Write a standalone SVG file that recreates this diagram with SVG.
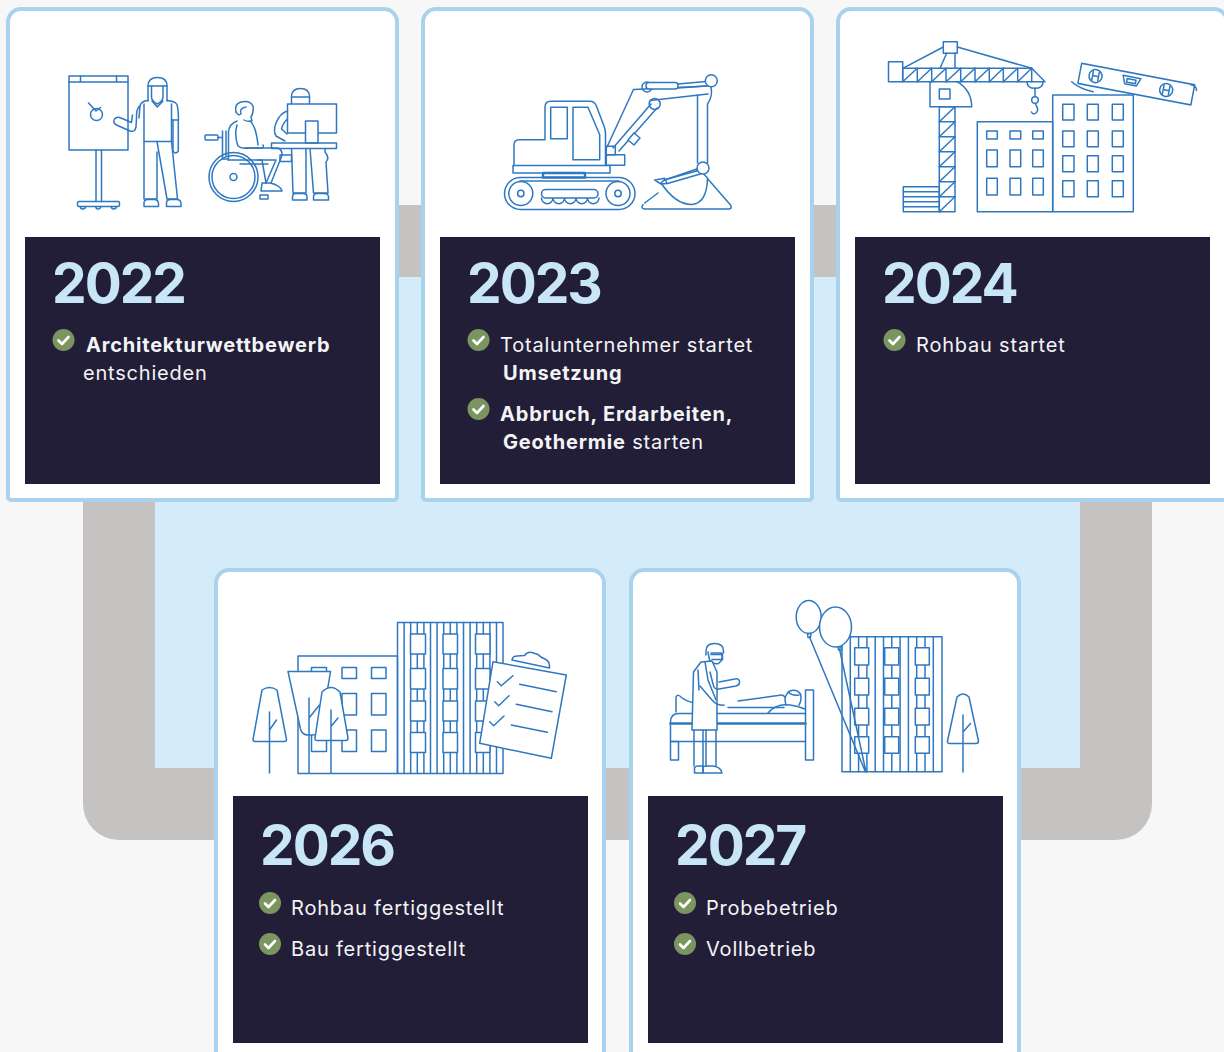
<svg xmlns="http://www.w3.org/2000/svg" width="1224" height="1052" viewBox="0 0 1224 1052">
<style>
.ill{fill:none;stroke:#2f78c1;stroke-width:1.5;stroke-linejoin:round;stroke-linecap:round}
.ill .w{fill:#fff}
.ill .thick{stroke-width:2.4}
.card{fill:#fff;stroke:#a9d3ec;stroke-width:4}
.panel{fill:#221e38}
.year{font-family:Inter,"Liberation Sans",sans-serif;font-weight:700;font-size:55px;letter-spacing:-2px;fill:#c8e6f8}
.txt{font-family:Inter,"Liberation Sans",sans-serif;font-size:20px;letter-spacing:0.8px;fill:#f4f4f6}
.b{font-weight:700}
</style>
<defs>
<g id="chk"><circle r="11" fill="#7a9560"/><path d="M-5 0.5L-1.5 4L5 -3" fill="none" stroke="#fff" stroke-width="2.6" stroke-linecap="round" stroke-linejoin="round"/></g>
</defs>
<rect width="1224" height="1052" fill="#f7f7f7"/>

<!-- timeline track behind the cards -->
<g id="connectors">
<path d="M83 205H1152V804a36 36 0 0 1-36 36H119a36 36 0 0 1-36-36Z" fill="#c4c3c2"/>
<rect x="155" y="277" width="925" height="491" fill="#d4ebf9"/>
</g>

<!-- 2022 -->
<g id="card-2022">
<path class="card" d="M8 22a13 13 0 0 1 13-13H384a13 13 0 0 1 13 13V497a3 3 0 0 1-3 3H11a3 3 0 0 1-3-3Z"/>
<g class="ill">
<!-- flip chart -->
<rect x="69" y="76" width="59" height="74"/>
<path d="M69 82H128M80.5 76V82M116.5 76V82"/>
<circle cx="96.5" cy="114.5" r="6"/>
<path d="M88.5 103L96 111L100.5 107.5"/>
<path d="M96 150V201.5M101.5 150V201.5"/>
<rect x="77.5" y="201.5" width="42" height="5" rx="1.5"/>
<path d="M80.3 206.5a2.5 2.5 0 0 0 5 0M95.8 206.5a2.5 2.5 0 0 0 5 0M111.3 206.5a2.5 2.5 0 0 0 5 0"/>
<!-- presenter -->
<path d="M148 101V86Q148 77.5 157.5 77.5Q167 77.5 167 86V101"/>
<path d="M148 86H167"/>
<path d="M151.5 86V97Q151.5 101 157.3 104Q163 101 163 97V86"/>
<path d="M148 100.5Q141 101 140 106L139 118M167 100.5Q175 101 177 104.5Q178.5 110 178.5 120H172.5"/>
<path d="M144 104V141.5H171.5V104"/>
<path d="M152 101L157.3 107L163 101"/>
<path d="M173 120V151Q175.5 155 178.3 151V120"/>
<path d="M139.5 106Q136 110 136.5 118L136 127Q135 132.5 130 131L116.5 125Q112.5 122.5 114.5 119Q117 116 121 118L131.5 122.5L132.5 115"/>
<path d="M144 141.5V199H157V152M157 141.5L167 199H177.5L171.5 141.5"/>
<path d="M144 206.5V203Q144 199.5 148 199.5H154Q158.5 199.5 158.5 204V206.5Z"/>
<path d="M166.5 206.5V203Q166.5 199.5 170.5 199.5H176.5Q181 199.5 181 204V206.5Z"/>
<!-- wheelchair user -->
<circle cx="233.5" cy="177" r="24.5"/>
<circle cx="233.5" cy="177" r="21.5"/>
<circle cx="233.5" cy="177" r="3.5"/>
<rect x="205" y="135" width="13" height="5" rx="1"/>
<path d="M218 137.5H222.5M222.5 131V159H228M226 131V156"/>
<path d="M228 160H262M240 164H268M262 160L266 183"/>
<path d="M237 121Q229 124 228.5 132V160"/>
<path d="M236 112Q234 104 241 102Q250 100 253 106Q254 112 251 117L252 121Q247 122 244 120"/>
<path d="M236 112Q238 116 241 114Q239 108 246 107"/>
<path d="M250 121Q256 126 258 145"/>
<path d="M237 125Q234 135 238 146Q241 149 248 148H262Q264 148 263 145"/>
<path d="M245 148L278 148Q284 151 281 158L271 183M258 160H276L266 183"/>
<path d="M262 183H270Q280 185 282 191H261Z"/>
<rect x="260" y="195" width="8" height="4"/>
<!-- person at desk -->
<path d="M291.5 104V97Q291.5 88.5 300.5 88.5Q309.5 88.5 309.5 97V104"/>
<path d="M291.5 97H309.5"/>
<rect class="w" x="287.5" y="104" width="49" height="29"/>
<rect class="w" x="305.5" y="121" width="12.5" height="22"/>
<rect x="271.5" y="143" width="65" height="5.5"/>
<path d="M287.5 111Q280 113 276 123Q273 131 276 136L285 141"/>
<path d="M287.5 119Q283 123 281.5 129L287 134"/>
<rect x="280" y="155" width="11.5" height="6.5"/>
<path d="M291.5 148.5L293 193H306V148.5M310 148.5L313.5 193H328L326 162Q330 158 325 152V148.5"/>
<path d="M292.5 200V197Q292.5 193.5 296 193.5H303Q307 193.5 307 197V200Z"/>
<path d="M313.5 200V197Q313.5 193.5 317 193.5H324Q328.5 193.5 328.5 197V200Z"/>
</g>
<rect class="panel" x="25" y="237" width="355" height="247"/>
<text class="year" x="52" y="303">2022</text>
<use href="#chk" x="63.5" y="340"/>
<text class="txt b" x="86" y="352">Architekturwettbewerb</text>
<text class="txt" x="83" y="380">entschieden</text>
</g>

<!-- 2023 -->
<g id="card-2023">
<path class="card" d="M423 22a13 13 0 0 1 13-13H799a13 13 0 0 1 13 13V497a3 3 0 0 1-3 3H426a3 3 0 0 1-3-3Z"/>
<g class="ill">
<!-- tracks -->
<rect x="504.5" y="177.5" width="130.5" height="32" rx="16"/>
<path d="M520 181H619"/>
<circle cx="520.8" cy="193.5" r="12"/><circle cx="520.8" cy="193.5" r="3.2"/>
<circle cx="618" cy="193.5" r="12"/><circle cx="618" cy="193.5" r="3.2"/>
<path d="M541.5 198a5.75 5.75 0 0 0 11.5 0a5.75 5.75 0 0 0 11.5 0a5.75 5.75 0 0 0 11.5 0a5.75 5.75 0 0 0 11.5 0a5.75 5.75 0 0 0 11.5 0"/>
<rect class="w" x="541.5" y="189.5" width="56.5" height="8.5" rx="4.2"/>
<!-- body -->
<rect class="thick" x="543" y="173" width="42" height="4.5"/>
<rect x="513" y="165.5" width="97" height="7.5"/>
<path d="M514 165.5V145Q514 139.7 519 139.7H545V107Q545 101.3 551 101.3H590Q594 101.3 596 105L604 126Q605.5 130 605.5 134V165.5"/>
<rect x="550.7" y="107.3" width="16.6" height="31.4"/>
<path d="M573 107.3H588L599.7 134.7V159.7H573Z"/>
<rect x="606.3" y="146.3" width="9" height="8.4"/>
<rect x="606.3" y="154.7" width="18.4" height="10.6"/>
<!-- boom -->
<circle cx="654.7" cy="104" r="5.5"/>
<path d="M607 147L633.5 89.5L708 86M708 94L650 100.5"/>
<path d="M613 148L651 104M619 151L657 108"/>
<path class="w" d="M628 140L634 133L640 138L634 145Z"/>
<circle cx="647" cy="87" r="5"/>
<rect class="w" x="646" y="82.5" width="32" height="6.5" rx="3"/>
<path d="M678 84L706 81.5M678 88L706 86"/>
<path d="M697.5 95V163M711 87Q713 96 707.5 104V163"/>
<circle class="w" cx="711.3" cy="80.7" r="6"/>
<!-- bucket and soil -->
<path d="M644.7 203L658 193M644 209Q640.5 208 643 204.5M644 209H729.5Q732.5 208 730.5 205L707 178"/>
<path class="w" d="M661 183Q676 205 692 204.5Q707 203 707.5 178L700 170L664 180Z"/>
<path d="M654.7 180L664.7 178.3L667 183.5L661 184Z"/>
<path d="M664.7 180L699.7 168M667.5 183.5L702 173.5"/>
<circle class="w" cx="703" cy="168" r="6"/>
</g>
<rect class="panel" x="440" y="237" width="355" height="247"/>
<text class="year" x="467" y="303">2023</text>
<use href="#chk" x="478.5" y="340"/>
<text class="txt" x="500" y="352">Totalunternehmer startet</text>
<text class="txt b" x="503" y="380">Umsetzung</text>
<use href="#chk" x="478.5" y="409"/>
<text class="txt b" x="500" y="421">Abbruch, Erdarbeiten,</text>
<text class="txt" x="503" y="449"><tspan class="b">Geothermie</tspan> starten</text>
</g>

<!-- 2024 -->
<g id="card-2024">
<path class="card" d="M838 22a13 13 0 0 1 13-13H1214a13 13 0 0 1 13 13V497a3 3 0 0 1-3 3H841a3 3 0 0 1-3-3Z"/>
<g class="ill">
<!-- crane -->
<rect x="888.5" y="61.7" width="14.2" height="20"/>
<rect x="943.3" y="41.7" width="14" height="11.6"/>
<path d="M902.7 68.3L943.3 47M957.3 47L1031.7 68.3M946.7 53.3L940 68.3M955 53.3V68.3"/>
<path d="M902.7 68.3H1031.7L1045 81.7H902.7Z"/>
<path d="M917.3 68.3V81.7M931.7 68.3V81.7M946 68.3V81.7M960.7 68.3V81.7M975 68.3V81.7M989.3 68.3V81.7M1003.3 68.3V81.7M1017.7 68.3V81.7M1031.7 68.3V81.7"/>
<path d="M902.7 81.7L917.3 68.3M917.3 81.7L931.7 68.3M931.7 81.7L946 68.3M946 81.7L960.7 68.3M960.7 81.7L975 68.3M975 81.7L989.3 68.3M989.3 81.7L1003.3 68.3M1003.3 81.7L1017.7 68.3M1017.7 81.7L1031.7 68.3"/>
<path d="M930 81.7V106.7H971.7Q971.5 90 957 81.7"/>
<rect x="939.3" y="89" width="10.7" height="10"/>
<rect x="939.3" y="106.7" width="15.7" height="105"/>
<path d="M939.3 121.7H955M939.3 136.7H955M939.3 151.7H955M939.3 166.7H955M939.3 181.7H955M939.3 196.7H955"/>
<path d="M939.3 121.7L955 106.7M939.3 136.7L955 121.7M939.3 151.7L955 136.7M939.3 166.7L955 151.7M939.3 181.7L955 166.7M939.3 196.7L955 181.7M939.3 211.7L955 196.7"/>
<rect x="903.3" y="186.7" width="36" height="25"/>
<path d="M903.3 191.7H939.3M903.3 196.7H939.3M903.3 201.7H939.3M903.3 206.7H939.3"/>
<path d="M1027 81.7Q1027 88.3 1035 88.3Q1043 88.3 1043 81.7"/>
<path d="M1035 88.3V96.5"/>
<circle cx="1035" cy="100" r="3.3"/>
<path d="M1035 103.3L1036.5 106Q1039 110 1036 113Q1033 115 1031.5 112"/>
<!-- buildings -->
<rect x="977.3" y="121.7" width="75.4" height="90"/>
<rect x="986.7" y="131" width="10.6" height="8"/><rect x="1010" y="131" width="10.7" height="8"/><rect x="1032.7" y="131" width="10.6" height="8"/>
<rect x="986.7" y="150" width="10.6" height="16.7"/><rect x="1010" y="150" width="10.7" height="16.7"/><rect x="1032.7" y="150" width="10.6" height="16.7"/>
<rect x="986.7" y="178.3" width="10.6" height="16.7"/><rect x="1010" y="178.3" width="10.7" height="16.7"/><rect x="1032.7" y="178.3" width="10.6" height="16.7"/>
<rect x="1052.7" y="95" width="80.6" height="116.7"/>
<rect x="1062.7" y="104.3" width="11.3" height="15.7"/><rect x="1087.3" y="104.3" width="11" height="15.7"/><rect x="1112.3" y="104.3" width="11" height="15.7"/>
<rect x="1062.7" y="131" width="11.3" height="15.7"/><rect x="1087.3" y="131" width="11" height="15.7"/><rect x="1112.3" y="131" width="11" height="15.7"/>
<rect x="1062.7" y="155.7" width="11.3" height="16"/><rect x="1087.3" y="155.7" width="11" height="16"/><rect x="1112.3" y="155.7" width="11" height="16"/>
<rect x="1062.7" y="180.7" width="11.3" height="16"/><rect x="1087.3" y="180.7" width="11" height="16"/><rect x="1112.3" y="180.7" width="11" height="16"/>
<!-- spirit level -->
<g transform="translate(1081.7 63.3) rotate(10.8)">
<rect class="w" x="0" y="0" width="115" height="20.5"/>
<circle cx="16" cy="10" r="6.5"/><path d="M13 5.5V14.5M19 5.5V14.5M13 10H19"/>
<circle cx="88" cy="10.5" r="6.5"/><path d="M85 6V15M91 6V15M85 10.5H91"/>
<path d="M43 4H61L58 12H46Z"/><path d="M47.5 6.5H56.5V10H47.5Z"/>
</g>
<path d="M1071.7 81.7Q1080 89 1093.3 91.7M1190.5 84.5Q1197 86 1196.5 90.5"/>
</g>
<rect class="panel" x="855" y="237" width="355" height="247"/>
<text class="year" x="882" y="303">2024</text>
<use href="#chk" x="894.5" y="340"/>
<text class="txt" x="916" y="352">Rohbau startet</text>
</g>

<!-- 2026 -->
<g id="card-2026">
<path class="card" d="M216 583a13 13 0 0 1 13-13H591a13 13 0 0 1 13 13V1070H216Z"/>
<g class="ill">
<!-- low building -->
<rect x="298" y="656" width="99.5" height="117.5"/>
<rect x="311.5" y="667.5" width="15" height="11"/><rect x="342" y="667.5" width="14.5" height="11"/><rect x="371.5" y="667.5" width="14.5" height="11"/>
<rect x="311.5" y="693.5" width="15" height="21.5"/><rect x="342" y="693.5" width="14.5" height="21.5"/><rect x="371.5" y="693.5" width="14.5" height="21.5"/>
<rect x="311.5" y="730" width="15" height="21.5"/><rect x="342" y="730" width="14.5" height="21.5"/><rect x="371.5" y="730" width="14.5" height="21.5"/>
<!-- tower block -->
<rect x="397.5" y="622.5" width="105.5" height="151"/>
<path d="M404.1 622.5V773.5M410.7 622.5V773.5M417.3 622.5V773.5M423.9 622.5V773.5M430.5 622.5V773.5M437.1 622.5V773.5M443.7 622.5V773.5M450.3 622.5V773.5M456.9 622.5V773.5M463.5 622.5V773.5M470.1 622.5V773.5M476.7 622.5V773.5M483.3 622.5V773.5M489.9 622.5V773.5M496.5 622.5V773.5"/>
<g class="w">
<rect x="410.5" y="634" width="15" height="20"/><rect x="443" y="634" width="14.5" height="20"/><rect x="475.5" y="634" width="14.5" height="20"/>
<rect x="410.5" y="668.5" width="15" height="20.5"/><rect x="443" y="668.5" width="14.5" height="20.5"/><rect x="475.5" y="668.5" width="14.5" height="20.5"/>
<rect x="410.5" y="701" width="15" height="20"/><rect x="443" y="701" width="14.5" height="20"/><rect x="475.5" y="701" width="14.5" height="20"/>
<rect x="410.5" y="732.5" width="15" height="20"/><rect x="443" y="732.5" width="14.5" height="20"/><rect x="475.5" y="732.5" width="14.5" height="20"/>
</g>
<!-- trees -->
<path class="w" d="M262 690Q269.5 685 277 690L286.5 739.5Q286.5 741.5 284.5 741.5H255Q253 741.5 253 739.5Z"/>
<path d="M269.5 712V773M269.5 730L276.5 720"/>
<path class="w" d="M288 671.5H330.5L321 729Q319 735 312 735H308Q302 735 300.5 729Z"/>
<path d="M309 698V773M309 718L319.5 705"/>
<path class="w" d="M322 692Q331 683 340 692L348 738Q348 740.5 345.5 740.5H317Q314.5 740.5 315 738Z"/>
<path d="M331 710V773M331 726.5L338 718"/>
<!-- clipboard -->
<path class="w" d="M512 660Q512.5 656 517 656L524.5 655.5Q527 651.5 532 652.5L538 654.5Q540.5 657.5 545 659Q550 661 549.5 668Z"/>
<path class="w" d="M493 661.7L566.3 675L551.3 758.3L479.7 743.3Z"/>
<path d="M497.3 681.7L501.3 685.7L513 675.7M519.7 684.3L556.3 691.7M494.7 701.7L498.7 705.7L509 695.7M516.3 704.3L552 711.7M489.7 721.7L493.7 725.7L504 716M511.3 725L547.3 732.3"/>
</g>
<rect class="panel" x="233" y="796" width="355" height="247"/>
<text class="year" x="260" y="865">2026</text>
<use href="#chk" x="270" y="903"/>
<text class="txt" x="291" y="915">Rohbau fertiggestellt</text>
<use href="#chk" x="270" y="944"/>
<text class="txt" x="291" y="956">Bau fertiggestellt</text>
</g>

<!-- 2027 -->
<g id="card-2027">
<path class="card" d="M631 583a13 13 0 0 1 13-13H1006a13 13 0 0 1 13 13V1070H631Z"/>
<g class="ill">
<!-- bed -->
<path d="M676 712V697Q678 693.5 681.5 697.5Q686 701 694 703V712"/>
<path d="M670.5 741.5V722Q670.5 713.5 679 713.5H805.5M670.5 741.5H805.5"/>
<path class="thick" d="M670.5 723.5H805.5"/>
<rect x="670.5" y="741.5" width="8" height="18.5"/>
<rect x="805.5" y="690" width="8" height="70"/>
<!-- patient -->
<path d="M786 705Q783 697 789 691.5Q796 688 800.5 694Q802 700 799 705"/>
<path d="M788 692Q792 696 799 695"/>
<path d="M738 701L778 695.5Q783 694 785 697M728 707.5H784"/>
<path d="M768 713Q776 703 790 705Q798 706 805 709"/>
<!-- doctor -->
<path d="M706 655V651Q706 643.5 714.5 643.5Q723.5 643.5 723.5 651V653"/>
<path d="M708 652L709.5 660Q713 664.5 718.5 663.5L722 660V653H711"/>
<path d="M711 654.5H722.5V659.5H712"/>
<path class="w" d="M701 662L712 661L717 672V730H692L693.5 672Z"/>
<path d="M705 662L708 680L716 700M698 670L699 690"/>
<path d="M710 672L713 684Q714 690 719 689L736 686Q740 685 739.5 681.5Q739 678 735 679L719 682"/>
<path d="M700 686L712 700Q717 706 724 705"/>
<path d="M694 730V766M703 730V766M706 730V766M716 730V766"/>
<path d="M694.5 773V768Q695 766 698 766H703V773Z"/>
<path d="M703 773V768Q703 766 706 766H713Q721 767 722 773Z"/>
<!-- building with balloons -->
<rect x="842" y="636.7" width="100" height="135"/>
<path d="M850.3 636.7V771.7M858.6 636.7V771.7M866.9 636.7V771.7M875.2 636.7V771.7M883.5 636.7V771.7M891.8 636.7V771.7M900.1 636.7V771.7M908.4 636.7V771.7M916.7 636.7V771.7M925 636.7V771.7M933.3 636.7V771.7"/>
<g class="w">
<rect x="854.7" y="647.7" width="14" height="17.3"/><rect x="884.7" y="647.7" width="14" height="17.3"/><rect x="915.3" y="647.7" width="14" height="17.3"/>
<rect x="854.7" y="678.3" width="14" height="16.7"/><rect x="884.7" y="678.3" width="14" height="16.7"/><rect x="915.3" y="678.3" width="14" height="16.7"/>
<rect x="854.7" y="708.3" width="14" height="16.7"/><rect x="884.7" y="708.3" width="14" height="16.7"/><rect x="915.3" y="708.3" width="14" height="16.7"/>
<rect x="854.7" y="736.7" width="14" height="16.6"/><rect x="884.7" y="736.7" width="14" height="16.6"/><rect x="915.3" y="736.7" width="14" height="16.6"/>
</g>
<path d="M809.5 637L865.5 772M839.5 649L866 772"/>
<ellipse class="w" cx="808.7" cy="617" rx="12.5" ry="16.5"/>
<path d="M807.5 633.5L811 633.5L810.5 637.5H808Z"/>
<ellipse class="w" cx="835.5" cy="627" rx="16" ry="20"/>
<path d="M838 647L841.5 647L841 650H838.5Z"/>
<!-- tree -->
<path class="w" d="M957 697Q963 691 969 697L978.5 741Q978.5 743.5 976 743.5H949.5Q947 743.5 947.5 741Z"/>
<path d="M963 715V772M963 732L970.5 723.5"/>
</g>
<rect class="panel" x="648" y="796" width="355" height="247"/>
<text class="year" x="675" y="865">2027</text>
<use href="#chk" x="685" y="903"/>
<text class="txt" x="706" y="915">Probebetrieb</text>
<use href="#chk" x="685" y="944"/>
<text class="txt" x="706" y="956">Vollbetrieb</text>
</g>
</svg>
